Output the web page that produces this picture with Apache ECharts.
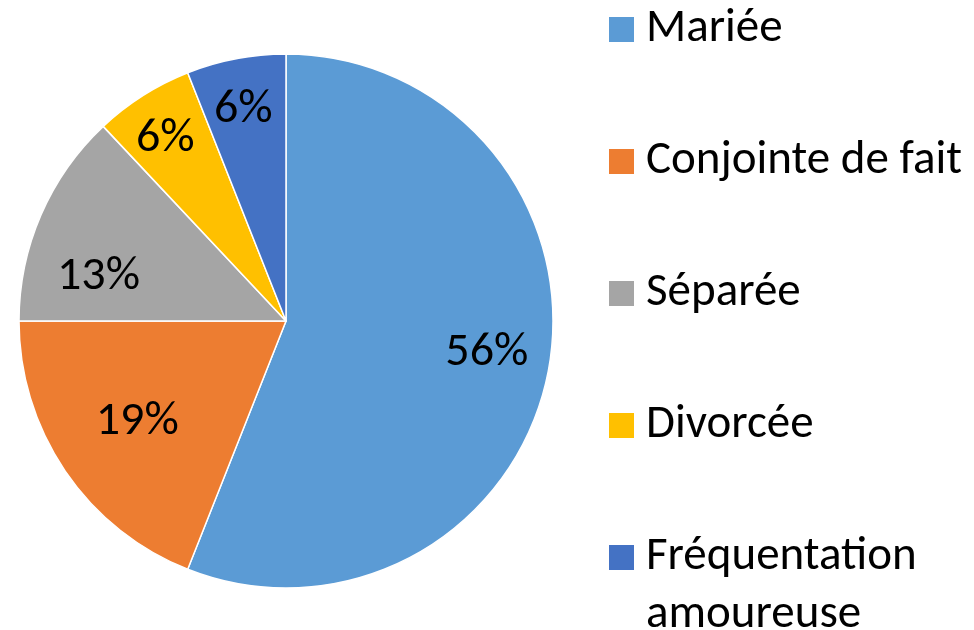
<!DOCTYPE html>
<html>
<head>
<meta charset="utf-8">
<script src="https://cdn.jsdelivr.net/npm/echarts@6/dist/echarts.min.js"></script>
<style>
  html, body { margin: 0; padding: 0; background: #fff; }
  #chart { width: 974px; height: 630px; }
</style>
</head>
<body>
<div id="chart"></div>
<script>
// données
let categories = ['Mariée', 'Conjointe de fait', 'Séparée', 'Divorcée', 'Fréquentation amoureuse'];
let values = [56, 19, 13, 6, 6];
let colors = ['#5B9BD5', '#ED7D31', '#A5A5A5', '#FFC000', '#4472C4'];

let font = 'Carlito, Lato, "Noto Sans", sans-serif';

let seriesData = categories.map(function (name, i) {
  return { name: name, value: values[i], itemStyle: { color: colors[i] } };
});

// petits décalages des étiquettes (placement "ajusté" façon Excel)
let nudge = [[-2, -7], [22, -15], [2, 38], [-10, -8], [-4, -8]];

let myChart = echarts.init(document.getElementById('chart'));
myChart.setOption({
  animation: false,
  legend: {
    orient: 'vertical',
    left: 607,
    top: 2,
    padding: 0,
    itemWidth: 27,
    itemHeight: 27,
    itemGap: 77,
    icon: 'rect',
    data: categories,
    formatter: function (name) {
      // le dernier libellé est coupé sur deux lignes (suite en graphic)
      return name.split(' ')[0] === 'Fréquentation' ? 'Fréquentation' : name;
    },
    textStyle: {
      fontFamily: font,
      fontSize: 47,
      lineHeight: 50,
      color: '#000',
      padding: [5, 0, 0, 6]
    }
  },
  graphic: [{
    type: 'text',
    left: 646,
    top: 592,
    style: { text: 'amoureuse', font: '47px ' + font, fill: '#000' }
  }],
  series: [
    {
      type: 'pie',
      center: [286, 321],
      radius: 267,
      startAngle: 90,
      clockwise: true,
      silent: true,
      label: { show: false },
      labelLine: { show: false },
      itemStyle: { borderColor: '#fff', borderWidth: 1.5 },
      data: seriesData
    },
    {
      // série transparente pour placer les étiquettes plus près du bord
      type: 'pie',
      center: [286, 321],
      radius: [140, 267],
      startAngle: 90,
      clockwise: true,
      silent: true,
      legendHoverLink: false,
      itemStyle: { color: 'rgba(0,0,0,0)' },
      label: {
        show: true,
        position: 'inside',
        formatter: '{c}%',
        fontFamily: font,
        fontSize: 48,
        color: '#000'
      },
      labelLayout: function (params) {
        let d = nudge[params.dataIndex];
        return { dx: d[0], dy: d[1] };
      },
      labelLine: { show: false },
      data: categories.map(function (name, i) { return { name: name + ' ', value: values[i] }; })
    }
  ]
});
</script>
</body>
</html>
